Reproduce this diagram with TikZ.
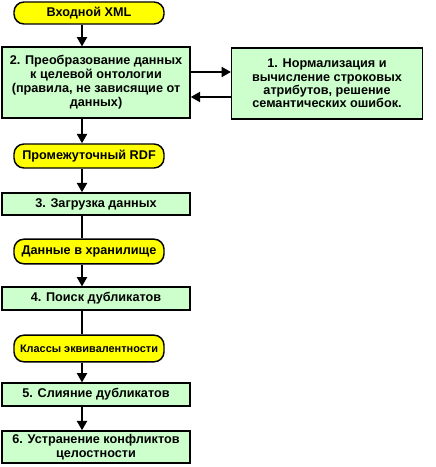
\documentclass[tikz,border=0pt]{standalone}
\usepackage{fontspec}
\setmainfont{Liberation Sans}
\usetikzlibrary{arrows.meta}

\definecolor{stepgreen}{HTML}{CCFFCC}
\definecolor{dataYellow}{HTML}{FFFF00}

\begin{document}
\begin{tikzpicture}[
  x=0.75pt, y=-0.75pt,
  >={Triangle[width=7.5pt,length=7pt]},
  stage/.style={draw,line width=1.1pt,fill=stepgreen,inner sep=0pt,align=center,
    font=\fontsize{9.5}{10.5}\selectfont\bfseries},
  dataset/.style={draw,line width=1.1pt,fill=dataYellow,rounded corners=7.5pt,inner sep=0pt,
    minimum width=112.5pt,font=\fontsize{9.5}{10.5}\selectfont\bfseries},
  flow/.style={->,line width=1.5pt},
  plain/.style={line width=1.5pt}
]
  \useasboundingbox (0,0) rectangle (435,467);

  \node[dataset,minimum height=16.5pt] (xml) at (89,13) {Входной XML};
  \node[stage,minimum width=141pt,minimum height=53pt] (map) at (96,82.5)
    {2. Преобразование данных\\к целевой онтологии\\(правила, не зависящие от\\данных)};
  \node[stage,minimum width=143pt,minimum height=53pt,
    font=\fontsize{9.5}{10}\selectfont\bfseries] (norm) at (327,83.5)
    {1. Нормализация и\\вычисление строковых\\атрибутов, решение\\семантических ошибок.};
  \node[dataset,minimum height=18pt] (rdf) at (89,156) {Промежуточный RDF};
  \node[stage,minimum width=141pt,minimum height=16.5pt] (load) at (96,204) {3. Загрузка данных};
  \node[dataset,minimum height=18.5pt] (store) at (89,251.5) {Данные в хранилище};
  \node[stage,minimum width=141pt,minimum height=17pt] (dup) at (96,298.5) {4. Поиск дубликатов};
  \node[dataset,minimum height=20pt,font=\fontsize{8.2}{10}\selectfont\bfseries] (cls) at (89,348.5)
    {Классы эквивалентности};
  \node[stage,minimum width=141pt,minimum height=17pt] (merge) at (96,394.5) {5. Слияние дубликатов};
  \node[stage,minimum width=141pt,minimum height=24pt] (fix) at (96,447)
    {6. Устранение конфликтов\\целостности};

  % main column
  \coordinate (axis) at (82,0);
  \draw[flow] (xml.south -| axis) -- (map.north -| axis);
  \draw[flow] (map.south -| axis) -- (rdf.north -| axis);
  \draw[flow] (rdf.south -| axis) -- (load.north -| axis);
  \draw[plain] (load.south -| axis) -- (store.north -| axis);
  \draw[flow] (store.south -| axis) -- (dup.north -| axis);
  \draw[plain] (dup.south -| axis) -- (cls.north -| axis);
  \draw[flow] (cls.south -| axis) -- (merge.north -| axis);
  \draw[flow] (merge.south -| axis) -- (fix.north -| axis);

  % side loop
  \draw[flow] (map.east |- 0,72) -- (norm.west |- 0,72);
  \draw[flow] (norm.west |- 0,97) -- (map.east |- 0,97);
\end{tikzpicture}
\end{document}
